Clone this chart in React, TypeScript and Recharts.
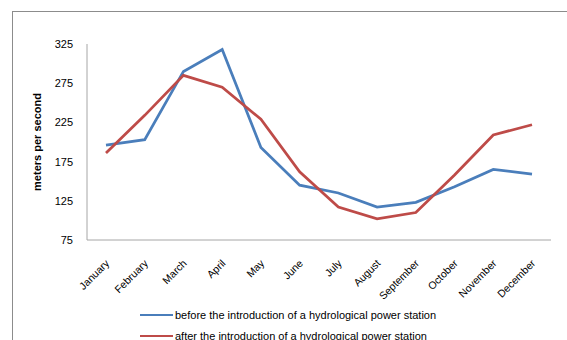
import React from 'react';
import { LineChart, Line, XAxis, YAxis, Legend } from 'recharts';

const months = [
  'January', 'February', 'March', 'April', 'May', 'June',
  'July', 'August', 'September', 'October', 'November', 'December',
];
const before = [196, 203, 290, 318, 193, 145, 135, 117, 123, 143, 165, 159];
const after = [186, 234, 285, 270, 229, 162, 117, 102, 110, 158, 209, 222];
const yTicks = [75, 125, 175, 225, 275, 325];

const beforeName = 'before the introduction of a hydrological power station';
const afterName = 'after the introduction of a hydrological power station';
const legendOrder = [beforeName, afterName];

const data = months.map((m, i) => ({ month: m, before: before[i], after: after[i] }));

const FONT = '"Liberation Sans", Arial, sans-serif';

const MonthTick = (props: any) => {
  const { x, y, payload } = props;
  return (
    <g transform={`translate(${x + 4},${y + 16})`}>
      <text
        transform="rotate(-45)"
        textAnchor="end"
        fontSize={10.5}
        fontFamily={FONT}
        fill="#000"
      >
        {payload.value}
      </text>
    </g>
  );
};

const LegendBox = (props: any) => {
  const items = [...(props.payload || [])].sort(
    (a: any, b: any) => legendOrder.indexOf(a.value) - legendOrder.indexOf(b.value)
  );
  return (
    <div style={{ fontFamily: FONT, fontSize: 11, color: '#000' }}>
      {items.map((p: any) => (
        <div key={p.value} style={{ display: 'flex', alignItems: 'center', height: 21 }}>
          <span style={{ display: 'inline-block', width: 33, height: 2, background: p.color }} />
          <span style={{ marginLeft: 2, whiteSpace: 'nowrap' }}>{p.value}</span>
        </div>
      ))}
    </div>
  );
};

export default function App() {
  return (
    <div style={{ position: 'absolute', left: 0, top: 0, width: 567, height: 340, overflow: 'hidden', background: '#fff' }}>
      <div
        style={{
          position: 'absolute', left: 12, top: 11, width: 600, height: 400,
          borderTop: '1px solid #8c8c8c', borderLeft: '1px solid #8c8c8c',
        }}
      />
      <div style={{ position: 'absolute', left: 0, top: 0 }}>
        <LineChart width={567} height={340} data={data} margin={{ top: 44, right: 16, bottom: 40, left: 47 }}>
          <XAxis
            dataKey="month"
            interval={0}
            tickLine={false}
            axisLine={{ stroke: '#a6a6a6' }}
            height={60}
            padding={{ left: 19, right: 19 }}
            tick={<MonthTick />}
          />
          <YAxis
            domain={[75, 325]}
            ticks={yTicks}
            width={40}
            tickLine={false}
            axisLine={{ stroke: '#a6a6a6' }}
            tickSize={6}
            tickMargin={8}
            tick={{ fontSize: 11, fill: '#000', fontFamily: FONT }}
            label={{
              value: 'meters per second',
              angle: -90,
              position: 'left',
              offset: 10,
              style: { textAnchor: 'middle', fontSize: 11, fontWeight: 'bold', fill: '#000', fontFamily: FONT },
            }}
          />
          <Legend
            layout="vertical"
            align="center"
            verticalAlign="middle"
            wrapperStyle={{ left: 140, top: 304, width: 'auto' }}
            content={<LegendBox />}
          />
          <Line
            type="linear"
            dataKey="before"
            name={beforeName}
            stroke="#4a7ebb"
            strokeWidth={2.75}
            dot={false}
            isAnimationActive={false}
          />
          <Line
            type="linear"
            dataKey="after"
            name={afterName}
            stroke="#be4b48"
            strokeWidth={2.75}
            dot={false}
            isAnimationActive={false}
          />
        </LineChart>
      </div>
    </div>
  );
}
